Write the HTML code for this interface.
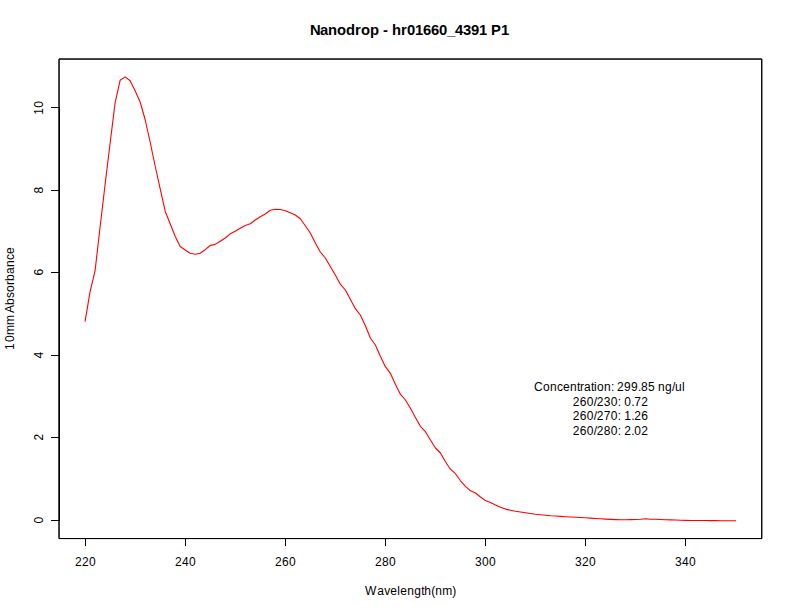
<!DOCTYPE html>
<html lang="en"><head><meta charset="utf-8"><title>Nanodrop - hr01660_4391 P1</title>
<style>html,body{margin:0;padding:0;background:#fff}body{width:792px;height:612px;overflow:hidden}svg{display:block}text{font-family:"Liberation Sans",Arial,Helvetica,sans-serif;fill:#000}</style></head><body>
<svg width="792" height="612" viewBox="0 0 792 612">
<rect width="792" height="612" fill="#fff"/>
<polyline fill="none" stroke="#ff0000" stroke-width="1.1" stroke-linejoin="round" stroke-linecap="round" points="85.07,321.30 90.08,291.70 95.08,270.60 100.09,227.00 105.09,184.50 110.10,143.30 115.10,102.90 120.11,80.30 125.11,76.90 130.12,80.70 135.12,90.80 140.13,102.00 145.13,119.50 150.14,142.00 155.14,166.00 160.15,188.70 165.15,211.20 170.16,223.70 175.16,236.20 180.17,246.50 185.17,250.00 190.18,253.20 195.18,254.20 200.19,253.30 205.19,249.70 210.20,245.50 215.20,244.40 220.21,241.20 225.21,238.00 230.22,233.80 235.22,231.30 240.23,228.30 245.23,225.50 250.24,223.70 255.24,220.00 260.25,216.70 265.25,214.00 270.26,210.30 275.26,209.20 280.27,209.50 285.27,210.80 290.28,212.80 295.28,215.00 300.29,218.80 305.29,225.80 310.30,233.00 315.30,243.00 320.31,252.00 325.31,258.00 330.32,266.50 335.32,275.00 340.33,284.20 345.34,290.00 350.34,299.20 355.35,308.70 360.35,315.00 365.36,325.80 370.36,338.00 375.37,345.00 380.37,356.20 385.38,366.70 390.38,373.30 395.39,384.20 400.39,394.20 405.40,400.00 410.40,408.30 415.41,417.50 420.41,426.30 425.42,431.70 430.42,440.00 435.43,448.00 440.43,453.00 445.44,461.70 450.44,469.20 455.45,473.70 460.45,480.80 465.46,486.30 470.46,490.80 475.47,493.00 480.47,497.00 485.48,500.60 490.48,502.50 495.49,505.00 500.49,507.30 505.50,509.10 510.50,510.20 515.51,511.20 520.51,512.00 525.52,512.70 530.52,513.50 535.53,514.20 540.53,514.70 545.54,515.20 550.54,515.70 555.55,516.00 560.55,516.40 565.56,516.70 570.56,517.00 575.57,517.20 580.57,517.50 585.58,517.70 590.59,518.10 595.59,518.50 600.60,518.80 605.60,519.10 610.61,519.40 615.61,519.60 620.62,519.70 625.62,519.70 630.63,519.60 635.63,519.50 640.64,519.30 645.64,518.80 650.65,519.20 655.65,519.30 660.66,519.50 665.66,519.70 670.67,519.90 675.67,520.00 680.68,520.20 685.68,520.40 690.69,520.50 695.69,520.50 700.70,520.50 705.70,520.50 710.71,520.60 715.71,520.60 720.72,520.70 725.72,520.70 730.73,520.70 735.73,520.80"/>
<g fill="none" stroke="#000" stroke-width="1" stroke-linejoin="round">
<rect x="59.04" y="59.04" width="702.72" height="479.52"/>
<rect x="59.04" y="59.04" width="702.72" height="479.52"/>
</g>
<g fill="none" stroke="#000" stroke-width="1" stroke-linecap="butt">
<path d="M85 538.5H686"/>
<path d="M59.5 107V521"/>
<path d="M85.5 538.56V546.06"/>
<path d="M185.5 538.56V546.06"/>
<path d="M285.5 538.56V546.06"/>
<path d="M385.5 538.56V546.06"/>
<path d="M485.5 538.56V546.06"/>
<path d="M585.5 538.56V546.06"/>
<path d="M685.5 538.56V546.06"/>
<path d="M59.04 520.5H51.04"/>
<path d="M59.04 437.5H51.04"/>
<path d="M59.04 355.5H51.04"/>
<path d="M59.04 272.5H51.04"/>
<path d="M59.04 190.5H51.04"/>
<path d="M59.04 107.5H51.04"/>
</g>
<g font-size="12">
<text x="75 82 89" y="565.7">220</text>
<text x="175 182 189" y="565.7">240</text>
<text x="275 282 289" y="565.7">260</text>
<text x="375 382 389" y="565.7">280</text>
<text x="475 482 489" y="565.7">300</text>
<text x="575 582 589" y="565.7">320</text>
<text x="675 682 689" y="565.7">340</text>
<text transform="translate(43 523.6) rotate(-90)" x="0" y="0">0</text>
<text transform="translate(43 440.6) rotate(-90)" x="0" y="0">2</text>
<text transform="translate(43 358.6) rotate(-90)" x="0" y="0">4</text>
<text transform="translate(43 275.6) rotate(-90)" x="0" y="0">6</text>
<text transform="translate(43 193.6) rotate(-90)" x="0" y="0">8</text>
<text transform="translate(43 114.8) rotate(-90)" x="0 7" y="0">10</text>
<text x="365 377.3 384.3 390.3 397.3 400.3 407.3 414.3 421.3 424.3 431.3 435.3 442.3 452.3" y="594.6">Wavelength(nm)</text>
<text transform="translate(14.4 350) rotate(-90)" x="0 8 15 25 35 37 45 52 58 65 69 76 83 90 96" y="0">10mm Absorbance</text>
<text x="534 543 550 557 563 570 577 580 584 591 594 597 604 611 614 617 624 631 638 641 648 655 658 665 672 675 682" y="390.9">Concentration: 299.85 ng/ul</text>
<text x="572.7 579.7 586.7 593.7 596.7 603.7 610.7 617.7 620.7 624.3 631.3 634.3 641.3" y="405.6">260/230: 0.72</text>
<text x="572.7 579.7 586.7 593.7 596.7 603.7 610.7 617.7 620.7 624.3 631.3 634.3 641.3" y="420.3">260/270: 1.26</text>
<text x="572.7 579.7 586.7 593.7 596.7 603.7 610.7 617.7 620.7 624.3 631.3 634.3 641.3" y="435">260/280: 2.02</text>
</g>
<text x="310 320 328 337 346 355 361 370 379 383 388 392 401 407 415 423 431 439 447 455 463 471 479 487 491 501" y="34.6" font-size="14.8" font-weight="bold">Nanodrop - hr01660_4391 P1</text>
</svg></body></html>
